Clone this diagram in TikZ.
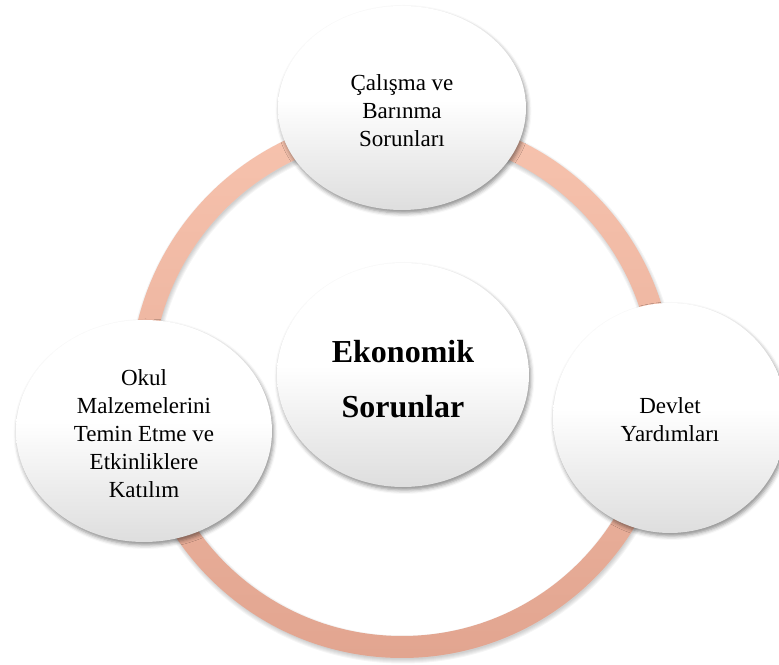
\documentclass[tikz,border=0pt]{standalone}
\usepackage{fontspec}
\setmainfont{Liberation Serif}
\usetikzlibrary{shapes.geometric,shadows.blur}

\definecolor{ringtop}{HTML}{F7C3AE}
\definecolor{ringbottom}{HTML}{E2A590}
\definecolor{bubblebottom}{HTML}{DEDEDE}

% white over the upper half, fading to light grey at the bottom
\pgfdeclareverticalshading{bubbleshade}{100bp}{%
  color(0bp)=(bubblebottom); color(25bp)=(bubblebottom);
  color(38bp)=(white!93!black); color(52bp)=(white); color(100bp)=(white)}

\tikzset{
  softshadow/.style={blur shadow={shadow xshift=1.5pt, shadow yshift=-3pt,
      shadow blur radius=4pt, shadow opacity=45}},
  bubble/.style={ellipse, inner sep=0pt, draw=none, softshadow,
      shading=bubbleshade},
  bubbletext/.style={align=center, inner sep=0pt,
      font=\fontsize{23}{28}\selectfont},
  hubtext/.style={align=center, inner sep=0pt,
      font=\fontsize{32}{55}\selectfont\bfseries},
  ringshadow/.style={draw=black, opacity=0.04}
}

\begin{document}
\begin{tikzpicture}[x=1pt,y=1pt]
  \useasboundingbox (0,0) rectangle (779,664);

  % soft shadow under the ring, built from widening transparent strokes
  \coordinate (ringshadowc) at (403,275.5);
  \foreach \w in {20,22,...,28} {
    \path[ringshadow, line width=\w pt] (ringshadowc) circle (261);
  }

  % connecting ring
  \coordinate (ringc) at (402,278);
  \path[even odd rule, top color=ringtop, bottom color=ringbottom]
    (ringc) circle (272) (ringc) circle (250);

  % bubbles
  \node[bubble, minimum width=252pt, minimum height=224pt] (hub) at (403,289) {};
  \node[bubble, minimum width=248pt, minimum height=204pt] (top) at (402,556) {};
  \node[bubble, minimum width=256pt, minimum height=222pt] (left) at (144,233) {};
  \node[bubble, minimum width=234pt, minimum height=230pt] (right) at (670,246) {};

  % labels
  \node[hubtext] (hubtxt) at ([yshift=-4pt]hub.center) {Ekonomik\\Sorunlar};
  \node[bubbletext] (toptxt) at ([yshift=-3pt]top.center) {Çalışma ve\\Barınma\\Sorunları};
  \node[bubbletext] (lefttxt) at ([yshift=-3pt]left.center) {Okul\\Malzemelerini\\Temin Etme ve\\Etkinliklere\\Katılım};
  \node[bubbletext] (righttxt) at ([yshift=-2pt]right.center) {Devlet\\Yardımları};
\end{tikzpicture}
\end{document}
